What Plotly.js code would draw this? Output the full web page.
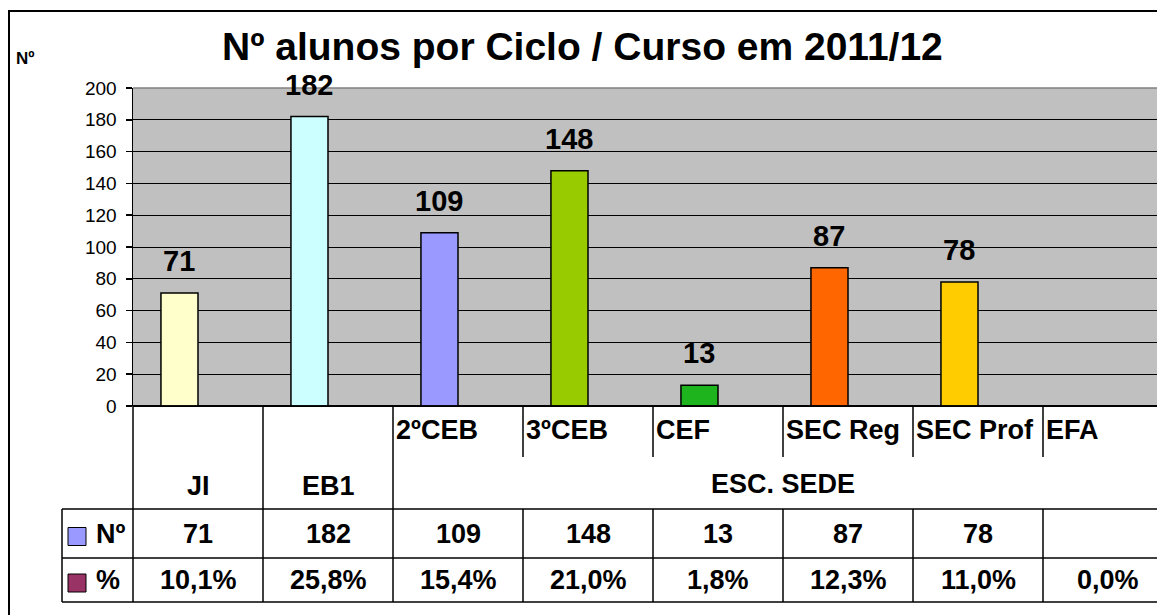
<!DOCTYPE html>
<html>
<head>
<meta charset="utf-8">
<script src="https://cdn.plot.ly/plotly-3.0.1.min.js"></script>
<style>html,body{margin:0;padding:0;background:#fff;}#chart{width:1157px;height:615px;}</style>
</head>
<body>
<div id="chart"></div>
<script>
// ---- data ----
const categories = ['JI', 'EB1', '2ºCEB', '3ºCEB', 'CEF', 'SEC Reg', 'SEC Prof', 'EFA'];
const groups = [
  {label: 'JI', from: 0, to: 0},
  {label: 'EB1', from: 1, to: 1},
  {label: 'ESC. SEDE', from: 2, to: 7}
];
const alunos = [71, 182, 109, 148, 13, 87, 78, null];
const percentagem = [10.1, 25.8, 15.4, 21.0, 1.8, 12.3, 11.0, 0.0];
const seriesNames = ['Nº', '%'];
const yTicks = [0, 20, 40, 60, 80, 100, 120, 140, 160, 180, 200];

// ---- style ----
const barColors = ['#FFFFCC', '#CCFFFF', '#9999FF', '#99CC00', '#1EB41E', '#FF6600', '#FFCC00', '#FFFFFF'];
const seriesColors = ['#9999FF', '#993366'];
const FONT = 'Liberation Sans, Arial, sans-serif';
const TABLE_FS = 27;

const W = 1157, H = 615;
const L = 133, T = 88, B = 406;          // plot-area pixel edges
const PW = W - L, PH = B - T;
const xRange = [-0.5, -0.5 + PW / 130];  // category width ~130px, plot area runs past the right edge
const px = p => (p - L) / PW;            // pixel -> paper x
const py = p => (B - p) / PH;            // pixel -> paper y
const cx = v => (v - xRange[0]) / (xRange[1] - xRange[0]); // category position -> paper x

const xIdx = categories.map((c, i) => i);

const traces = [{
  type: 'bar',
  x: xIdx,
  y: alunos,
  name: seriesNames[0],
  width: 0.285,
  offset: -0.285,
  marker: {color: barColors, line: {color: '#000', width: 1.5}},
  hoverinfo: 'x+y'
}];

// table rows (pixel y)
const rowSubBot = 457, rowGrpBot = 509, rowNBot = 558, rowPBot = 602;
const tableLeft = 62;

const shapes = [];
const line = (x0, y0, x1, y1, color, w) => shapes.push({type: 'line', xref: 'paper', yref: 'paper',
  x0, y0, x1, y1, line: {color: color || '#000', width: w || 1.5}, layer: 'above'});

// outer chart border
shapes.push({type: 'rect', xref: 'paper', yref: 'paper', x0: px(9), y0: py(11), x1: 1.05, y1: py(618),
  line: {color: '#000', width: 2}, layer: 'above'});
// grey top border of plot area
line(0, 1, 1, 1, '#808080', 1.5);
// horizontal table lines
line(0, 0, 1, 0);
line(px(tableLeft), py(rowGrpBot), 1, py(rowGrpBot));
line(px(tableLeft), py(rowNBot), 1, py(rowNBot));
line(px(tableLeft), py(rowPBot), 1, py(rowPBot));
// left edges
line(0, 0, 0, py(rowPBot));
line(px(tableLeft), py(rowGrpBot), px(tableLeft), py(rowPBot));
// vertical lines between categories
const groupStarts = groups.map(g => g.from);
for (let i = 1; i < categories.length; i++) {
  const xb = cx(i - 0.5);
  if (groupStarts.indexOf(i) >= 0) {
    line(xb, 0, xb, py(rowPBot));
  } else {
    line(xb, 0, xb, py(rowSubBot));
    line(xb, py(rowGrpBot), xb, py(rowPBot));
  }
}
// legend keys in the table
const rowMids = [(rowGrpBot + rowNBot) / 2, (rowNBot + rowPBot) / 2];
rowMids.forEach((mid, k) => {
  shapes.push({type: 'rect', xref: 'paper', yref: 'paper', x0: px(68), x1: px(86), y0: py(mid + 12), y1: py(mid - 6),
    fillcolor: seriesColors[k], line: {color: '#000', width: 1}, layer: 'above'});
});

const annotations = [];
// title & y-axis label
annotations.push({xref: 'paper', yref: 'paper', x: px(582), y: py(47), xanchor: 'center', yanchor: 'middle',
  text: '<b>Nº alunos por Ciclo / Curso em 2011/12</b>', showarrow: false, font: {family: FONT, size: 39, color: '#000'}});
annotations.push({xref: 'paper', yref: 'paper', x: px(14), y: py(59), xanchor: 'left', yanchor: 'middle',
  text: '<b>Nº</b>', showarrow: false, font: {family: FONT, size: 17, color: '#000'}});
// data labels
alunos.forEach((v, i) => {
  if (v === null) return;
  annotations.push({xref: 'x', yref: 'y', x: i - 0.1425, y: v, yshift: 32, xanchor: 'center', yanchor: 'middle',
    text: '<b>' + v + '</b>', showarrow: false, font: {family: FONT, size: 29, color: '#000'}});
});
// table: category labels
groups.forEach(g => {
  if (g.to > g.from) {
    for (let i = g.from; i <= g.to; i++) {
      annotations.push({xref: 'paper', yref: 'paper', x: cx(i - 0.5), xshift: 1, y: py(430), xanchor: 'left', yanchor: 'middle',
        text: '<b>' + categories[i] + '</b>', showarrow: false, font: {family: FONT, size: TABLE_FS, color: '#000'}});
    }
    annotations.push({xref: 'paper', yref: 'paper', x: (cx(g.from - 0.5) + cx(g.to + 0.5)) / 2, y: py(484), xanchor: 'center', yanchor: 'middle',
      text: '<b>' + g.label + '</b>', showarrow: false, font: {family: FONT, size: TABLE_FS, color: '#000'}});
  } else {
    annotations.push({xref: 'paper', yref: 'paper', x: cx(g.from), y: py(486), xanchor: 'center', yanchor: 'middle',
      text: '<b>' + g.label + '</b>', showarrow: false, font: {family: FONT, size: TABLE_FS, color: '#000'}});
  }
});
// table: series names
seriesNames.forEach((s, k) => {
  annotations.push({xref: 'paper', yref: 'paper', x: px(94), y: py(rowMids[k]), xanchor: 'left', yanchor: 'middle',
    text: '<b>' + s + '</b>', showarrow: false, font: {family: FONT, size: TABLE_FS, color: '#000'}});
});
// table: values
categories.forEach((c, i) => {
  if (alunos[i] !== null) {
    annotations.push({xref: 'paper', yref: 'paper', x: cx(i), y: py(rowMids[0]), xanchor: 'center', yanchor: 'middle',
      text: '<b>' + alunos[i] + '</b>', showarrow: false, font: {family: FONT, size: TABLE_FS, color: '#000'}});
  }
  annotations.push({xref: 'paper', yref: 'paper', x: cx(i), y: py(rowMids[1]), xanchor: 'center', yanchor: 'middle',
    text: '<b>' + percentagem[i].toFixed(1).replace('.', ',') + '%</b>', showarrow: false, font: {family: FONT, size: TABLE_FS, color: '#000'}});
});

const layout = {
  width: W, height: H,
  margin: {l: L, r: 0, t: T, b: H - B, pad: 0},
  paper_bgcolor: '#FFFFFF',
  plot_bgcolor: '#C0C0C0',
  showlegend: false,
  font: {family: FONT, color: '#000'},
  xaxis: {type: 'linear', range: xRange, showticklabels: false, showgrid: false, zeroline: false,
    showline: false, ticks: '', fixedrange: true},
  yaxis: {range: [0, 200], tickvals: yTicks, ticktext: yTicks.map(String), showgrid: true, gridcolor: '#000', gridwidth: 1,
    zeroline: true, zerolinecolor: '#000', zerolinewidth: 1.5,
    showline: true, linecolor: '#000', linewidth: 1.5, ticks: 'outside', ticklen: 6, tickcolor: '#000', tickwidth: 1.5,
    ticklabelstandoff: 5,
    tickfont: {family: FONT, size: 19, color: '#000'}, fixedrange: true},
  shapes: shapes,
  annotations: annotations
};

Plotly.newPlot('chart', traces, layout, {displayModeBar: false, staticPlot: true});
</script>
</body>
</html>
